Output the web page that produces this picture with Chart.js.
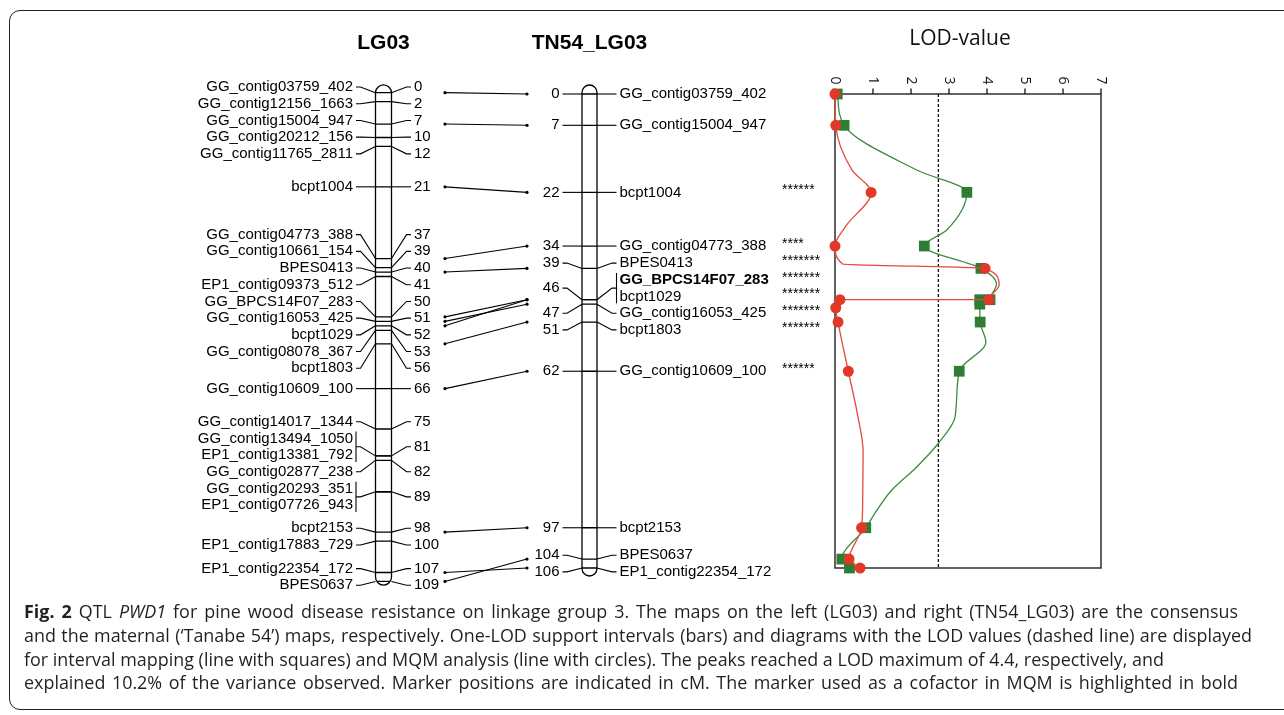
<!DOCTYPE html>
<html>
<head>
<meta charset="utf-8">
<script src="https://cdn.jsdelivr.net/npm/chart.js@4.4.1/dist/chart.umd.min.js"></script>
<style>
  html, body { margin: 0; padding: 0; background: #fff; overflow: hidden; }
  #wrap { position: relative; width: 1284px; height: 715px; overflow: hidden; }
  #frame { position: absolute; left: 9px; top: 10px; width: 1320px; height: 700px;
           border: 1.5px solid #222; border-radius: 11px; box-sizing: border-box; }
  canvas { position: absolute; left: 0; top: 0; }
  #caption { position: absolute; left: 24px; top: 600px; font-family: 'Open Sans', sans-serif;
             font-size: 16px; line-height: 23.8px; color: #231f20; white-space: nowrap; }
</style>
</head>
<body>
<div id="wrap">
  <div id="frame"></div>
  <canvas id="qtl" width="1284" height="715"></canvas>
  <div id="caption">
    <div><span data-w="1214"><b>Fig. 2</b> QTL <i>PWD1</i> for pine wood disease resistance on linkage group 3. The maps on the left (LG03) and right (TN54_LG03) are the consensus</span></div>
    <div><span data-w="1228">and the maternal (‘Tanabe 54’) maps, respectively. One-LOD support intervals (bars) and diagrams with the LOD values (dashed line) are displayed</span></div>
    <div><span data-w="1140">for interval mapping (line with squares) and MQM analysis (line with circles). The peaks reached a LOD maximum of 4.4, respectively, and</span></div>
    <div><span data-w="1214">explained 10.2% of the variance observed. Marker positions are indicated in cM. The marker used as a cofactor in MQM is highlighted in bold</span></div>
  </div>
</div>
<script>
// consensus map LG03 (cM)
const lgPos = [0, 2, 7, 10, 12, 21, 37, 39, 40, 41, 50, 51, 52, 53, 56, 66, 75, 81, 81, 82, 89, 89, 98, 100, 107, 109];
const lgNames = ['GG_contig03759_402', 'GG_contig12156_1663', 'GG_contig15004_947', 'GG_contig20212_156',
  'GG_contig11765_2811', 'bcpt1004', 'GG_contig04773_388', 'GG_contig10661_154', 'BPES0413',
  'EP1_contig09373_512', 'GG_BPCS14F07_283', 'GG_contig16053_425', 'bcpt1029', 'GG_contig08078_367',
  'bcpt1803', 'GG_contig10609_100', 'GG_contig14017_1344', 'GG_contig13494_1050', 'EP1_contig13381_792',
  'GG_contig02877_238', 'GG_contig20293_351', 'EP1_contig07726_943', 'bcpt2153', 'EP1_contig17883_729',
  'EP1_contig22354_172', 'BPES0637'];

// maternal map TN54_LG03 (cM)
const tnPos = [0, 7, 22, 34, 39, 46, 46, 47, 51, 62, 97, 104, 106];
const tnNames = ['GG_contig03759_402', 'GG_contig15004_947', 'bcpt1004', 'GG_contig04773_388', 'BPES0413',
  'GG_BPCS14F07_283', 'bcpt1029', 'GG_contig16053_425', 'bcpt1803', 'GG_contig10609_100', 'bcpt2153',
  'BPES0637', 'EP1_contig22354_172'];
const tnStars = ['', '', '******', '****', '*******', '*******', '*******', '*******', '*******', '******', '', '', ''];
const cofactor = 'GG_BPCS14F07_283';

// LOD curves along TN54_LG03 (marker = 1 draws a symbol)
const imPos = [0, 7, 17, 22, 30.4, 34, 39, 42.5, 46, 46, 47, 51, 55.5, 62, 72.2, 78.1, 83.4, 88.6, 93.1, 97, 104, 106];
const imLod = [0.06, 0.24, 2.15, 3.47, 2.94, 2.35, 3.84, 4.25, 4.08, 3.81, 3.81, 3.82, 3.97, 3.27, 3.16, 2.72, 2.15, 1.49, 1.1, 0.81, 0.18, 0.38];
const imMarker = [1, 1, 0, 1, 0, 1, 1, 0, 1, 1, 1, 1, 0, 1, 0, 0, 0, 0, 0, 1, 1, 1];
const mqmPos = [0, 7, 16.9, 22, 29.6, 34, 38, 39, 42.7, 46, 46, 47.8, 51, 62, 72, 80, 90, 97, 104, 106];
const mqmLod = [0, 0.02, 0.44, 0.95, 0.28, 0, 0.2, 3.95, 4.32, 4.05, 0.13, 0.02, 0.08, 0.35, 0.6, 0.74, 0.73, 0.70, 0.37, 0.66];
const mqmMarker = [1, 1, 0, 1, 0, 1, 0, 1, 0, 1, 1, 1, 1, 1, 0, 0, 0, 1, 1, 1];
const lodThreshold = 2.72;

const RED = '#e3372a';
const GREEN = '#2f7d34';
const MAP_FONT = "'Liberation Sans', Arial, sans-serif";
const LINE_H = 16.7;

// fit caption lines to the figure width, then stretch word gaps per line
const capSpans = document.querySelectorAll('#caption span');
let capScale = Infinity;
capSpans.forEach(s => {
  capScale = Math.min(capScale, +s.dataset.w / s.getBoundingClientRect().width);
});
document.getElementById('caption').style.fontSize = (16 * capScale) + 'px';
capSpans.forEach(s => {
  const gaps = (s.textContent.match(/ /g) || []).length;
  const extra = (+s.dataset.w - s.getBoundingClientRect().width) / gaps;
  if (extra > 0) s.style.wordSpacing = extra + 'px';
});

function groupMarkers(pos) {
  const groups = [];
  pos.forEach((p, i) => {
    const g = groups[groups.length - 1];
    if (g && g.pos === p) g.idx.push(i);
    else groups.push({ pos: p, idx: [i] });
  });
  return groups;
}

// push overlapping labels apart, keeping each block centred on its markers
function spreadLabels(centers, counts) {
  const blocks = [];
  centers.forEach((c, i) => {
    const b = { items: [i], h: counts[i] * LINE_H };
    b.top = c - b.h / 2;
    blocks.push(b);
    while (blocks.length > 1) {
      const last = blocks[blocks.length - 1];
      const prev = blocks[blocks.length - 2];
      if (prev.top + prev.h <= last.top) break;
      const m = { items: prev.items.concat(last.items), h: prev.h + last.h };
      let off = 0, sum = 0;
      m.items.forEach(j => {
        const hj = counts[j] * LINE_H;
        sum += centers[j] - (off + hj / 2);
        off += hj;
      });
      m.top = sum / m.items.length;
      blocks.splice(-2, 2, m);
    }
  });
  const out = [];
  blocks.forEach(b => {
    let off = b.top;
    b.items.forEach(j => {
      const hj = counts[j] * LINE_H;
      out[j] = off + hj / 2;
      off += hj;
    });
  });
  return out;
}

function stadium(ctx, L, top, w, h) {
  const r = w / 2;
  ctx.beginPath();
  ctx.moveTo(L, top + r);
  ctx.arc(L + r, top + r, r, Math.PI, 0);
  ctx.lineTo(L + w, top + h - r);
  ctx.arc(L + r, top + h - r, r, 0, Math.PI);
  ctx.closePath();
}

function drawMap(ctx, scale, pos, names, o) {
  const groups = groupMarkers(pos);
  const my = groups.map(g => scale.getPixelForValue(g.pos));
  const ly = spreadLabels(my, groups.map(g => g.idx.length));
  const L = o.cx - o.w / 2, R = o.cx + o.w / 2;
  const top = scale.getPixelForValue(pos[0]) - o.capTop;
  const bot = scale.getPixelForValue(pos[pos.length - 1]) + o.capBot;

  ctx.save();
  ctx.strokeStyle = '#000';
  ctx.lineWidth = 1.3;
  stadium(ctx, L, top, o.w, bot - top);
  ctx.stroke();
  ctx.clip();
  pos.forEach(p => {
    const y = scale.getPixelForValue(p);
    ctx.beginPath(); ctx.moveTo(L, y); ctx.lineTo(R, y); ctx.stroke();
  });
  ctx.restore();

  ctx.save();
  ctx.strokeStyle = '#000';
  ctx.fillStyle = '#000';
  ctx.lineWidth = 1.1;
  ctx.textBaseline = 'middle';
  groups.forEach((g, k) => {
    const yc = ly[k];
    const n = g.idx.length;
    const sides = [
      { edge: o.namesLeft ? L : R, s: o.namesLeft ? -1 : 1, names: true },
      { edge: o.namesLeft ? R : L, s: o.namesLeft ? 1 : -1, names: false }
    ];
    sides.forEach(sd => {
      ctx.beginPath();
      ctx.moveTo(sd.edge, my[k]);
      ctx.lineTo(sd.edge + sd.s * 15, yc);
      ctx.lineTo(sd.edge + sd.s * 19.5, yc);
      ctx.stroke();
      ctx.textAlign = sd.s < 0 ? 'right' : 'left';
      const tx = sd.edge + sd.s * 22.5;
      if (sd.names) {
        if (n > 1) {
          const bx = sd.edge + sd.s * 19.5;
          ctx.beginPath();
          ctx.moveTo(bx, yc - n * LINE_H / 2 + 1.5);
          ctx.lineTo(bx, yc + n * LINE_H / 2 - 1.5);
          ctx.stroke();
        }
        g.idx.forEach((i, r) => {
          const y = yc - (n - 1) * LINE_H / 2 + r * LINE_H;
          const bold = o.bold && names[i] === o.bold;
          ctx.font = (bold ? 'bold ' : '') + '15px ' + MAP_FONT;
          ctx.fillText(names[i], tx, y);
          if (o.stars && o.stars[i]) {
            ctx.save();
            ctx.textAlign = 'left';
            ctx.font = '14px ' + MAP_FONT;
            ctx.fillText(o.stars[i], o.starX, y - 2);
            ctx.restore();
          }
        });
      } else {
        ctx.font = '15px ' + MAP_FONT;
        ctx.fillText(String(g.pos), tx, yc);
      }
    });
  });
  ctx.font = 'bold 21px ' + MAP_FONT;
  ctx.textAlign = 'center';
  ctx.fillText(o.title, o.cx, 43);
  ctx.restore();
}

const mapPlugin = {
  id: 'linkageMaps',
  beforeDatasetsDraw(chart) {
    const ctx = chart.ctx;
    const a = chart.chartArea;
    const xs = chart.scales.x;
    ctx.save();
    ctx.strokeStyle = '#222';
    ctx.lineWidth = 1.4;
    ctx.strokeRect(a.left, a.top, a.right - a.left, a.bottom - a.top);
    ctx.fillStyle = '#111';
    ctx.font = "14px 'Open Sans', sans-serif";
    xs.ticks.forEach(t => {
      const px = xs.getPixelForValue(t.value);
      ctx.beginPath(); ctx.moveTo(px, a.top - 5.5); ctx.lineTo(px, a.top); ctx.stroke();
      ctx.save();
      ctx.translate(px, a.top - 9.5);
      ctx.rotate(Math.PI / 2);
      ctx.textAlign = 'right';
      ctx.textBaseline = 'middle';
      ctx.fillText(String(t.value), 0, 0);
      ctx.restore();
    });
    ctx.font = "21px 'Open Sans', sans-serif";
    ctx.textAlign = 'center';
    ctx.textBaseline = 'alphabetic';
    ctx.fillText('LOD-value', 960, 45);
    ctx.restore();
  },
  afterDraw(chart) {
    const ctx = chart.ctx;
    const yTN = chart.scales.y;
    const yLG = chart.scales.yLG;
    drawMap(ctx, yLG, lgPos, lgNames, { cx: 383.5, w: 16, capTop: 7.7, capBot: 3.6, namesLeft: true, title: 'LG03' });
    drawMap(ctx, yTN, tnPos, tnNames, { cx: 589.5, w: 15, capTop: 9, capBot: 8, namesLeft: false,
      title: 'TN54_LG03', bold: cofactor, stars: tnStars, starX: 782 });
    // lines joining shared markers
    ctx.save();
    ctx.strokeStyle = '#000';
    ctx.fillStyle = '#000';
    ctx.lineWidth = 1.1;
    tnNames.forEach((nm, i) => {
      const j = lgNames.indexOf(nm);
      if (j < 0) return;
      const y1 = yLG.getPixelForValue(lgPos[j]);
      const y2 = yTN.getPixelForValue(tnPos[i]);
      ctx.beginPath(); ctx.moveTo(445, y1); ctx.lineTo(527, y2); ctx.stroke();
      [[445, y1], [527, y2]].forEach(([x, y]) => {
        ctx.beginPath(); ctx.arc(x, y, 1.6, 0, Math.PI * 2); ctx.fill();
      });
    });
    ctx.restore();
  }
};

new Chart(document.getElementById('qtl').getContext('2d'), {
  type: 'line',
  data: {
    datasets: [
      {
        label: 'MQM',
        data: mqmPos.map((p, i) => ({ x: mqmLod[i], y: p })),
        borderColor: '#e64a3d',
        backgroundColor: RED,
        pointBackgroundColor: RED,
        pointBorderWidth: 0,
        pointStyle: 'circle',
        pointRadius: mqmMarker.map(m => m ? 5.5 : 0),
        borderWidth: 1.3,
        cubicInterpolationMode: 'monotone',
        clip: false,
        order: 0
      },
      {
        label: 'IM',
        data: imPos.map((p, i) => ({ x: imLod[i], y: p })),
        borderColor: '#3d8c42',
        backgroundColor: GREEN,
        pointBackgroundColor: GREEN,
        pointBorderWidth: 0,
        pointStyle: 'rect',
        pointRadius: imMarker.map(m => m ? 7.6 : 0),
        borderWidth: 1.3,
        cubicInterpolationMode: 'monotone',
        clip: false,
        order: 1
      },
      {
        label: 'threshold',
        data: [{ x: lodThreshold, y: 0 }, { x: lodThreshold, y: 106 }],
        borderColor: '#111',
        borderWidth: 1.3,
        borderDash: [3, 2],
        pointRadius: 0,
        clip: false,
        order: 2
      }
    ]
  },
  options: {
    indexAxis: 'y',
    responsive: false,
    animation: false,
    events: [],
    layout: { padding: { left: 835, right: 183, top: 94, bottom: 147 } },
    plugins: { legend: { display: false }, tooltip: { enabled: false } },
    scales: {
      x: { type: 'linear', position: 'top', min: 0, max: 7, display: false, ticks: { stepSize: 1 } },
      y: { type: 'linear', min: 0, max: 106, reverse: true, display: false },
      yLG: { type: 'linear', position: 'left', min: 0.3, max: 106, reverse: true, display: false }
    }
  },
  plugins: [mapPlugin]
});
</script>
</body>
</html>
